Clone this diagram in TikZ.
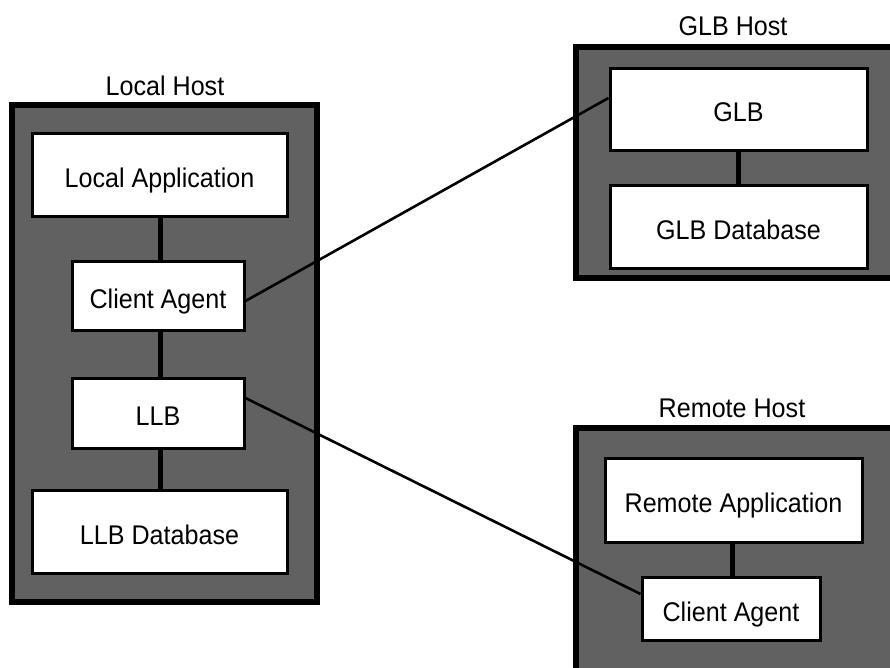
\documentclass[tikz,border=0pt]{standalone}
\usepackage{fontspec}
\setmainfont{Liberation Sans}[FakeStretch=0.93]
\usetikzlibrary{calc}
\tikzset{
  hostbox/.style={draw=black, line width=6pt, fill=black!62},
  partbox/.style={draw=black, line width=3pt, fill=white, inner sep=0pt},
  label/.style={inner sep=0pt, font=\fontsize{27}{32}\selectfont},
  partlabel/.style={label, text height=19pt, text depth=0pt, yshift=-3pt},
  link/.style={draw=black, line width=5pt},
  wire/.style={draw=black, line width=2.6pt},
}
\begin{document}
\begin{tikzpicture}[x=1pt, y=-1pt]
  \useasboundingbox (0,0) rectangle (890,667);
  \fill[white] (0,0) rectangle (890,667);

  % hosts
  \draw[hostbox] (12,105) rectangle (317,602);
  \draw[hostbox] (576,47) rectangle (894,278);
  \draw[hostbox] (576,428) rectangle (894,675);

  \node[label] (lhost) at (165,86) {Local Host};
  \node[label] (ghost) at (733,26) {GLB Host};
  \node[label] (rhost) at (732,408) {Remote Host};

  % local host parts
  \node[partbox, minimum width=255pt, minimum height=83pt] (lapp) at (159.5,175) {};
  \node[partbox, minimum width=172pt, minimum height=69pt] (lca) at (158,295.5) {};
  \node[partbox, minimum width=172pt, minimum height=70pt] (llb) at (158,413) {};
  \node[partbox, minimum width=255pt, minimum height=83pt] (ldb) at (159.5,531.5) {};

  % GLB host parts
  \node[partbox, minimum width=257pt, minimum height=82pt] (glb) at (738.5,109) {};
  \node[partbox, minimum width=257pt, minimum height=83pt] (gdb) at (738.5,226.5) {};

  % remote host parts
  \node[partbox, minimum width=257pt, minimum height=84pt] (rapp) at (733.5,500) {};
  \node[partbox, minimum width=178pt, minimum height=63pt] (rca) at (731,608.5) {};

  % part names
  \node[partlabel] (lappt) at (lapp) {Local Application};
  \node[partlabel] (lcat) at (lca) {Client Agent};
  \node[partlabel] (llbt) at (llb) {LLB};
  \node[partlabel] (ldbt) at (ldb) {LLB Database};
  \node[partlabel] (glbt) at (glb) {GLB};
  \node[partlabel] (gdbt) at (gdb) {GLB Database};
  \node[partlabel] (rappt) at (rapp) {Remote Application};
  \node[partlabel] (rcat) at (rca) {Client Agent};

  % stacks inside each host
  \draw[link] (lapp.south -| 160,0) -- (lca.north -| 160,0);
  \draw[link] (lca.south -| 160,0) -- (llb.north -| 160,0);
  \draw[link] (llb.south -| 160,0) -- (ldb.north -| 160,0);
  \draw[link] (glb.south -| 738,0) -- (gdb.north -| 738,0);
  \draw[link] (rapp.south -| 732,0) -- (rca.north -| 732,0);

  % network links between hosts
  \draw[wire] ([yshift=-5.5pt]lca.east) -- ([yshift=11pt]glb.west);
  \draw[wire] ([yshift=15pt]llb.east) -- ([yshift=14.5pt]rca.west);
\end{tikzpicture}
\end{document}
